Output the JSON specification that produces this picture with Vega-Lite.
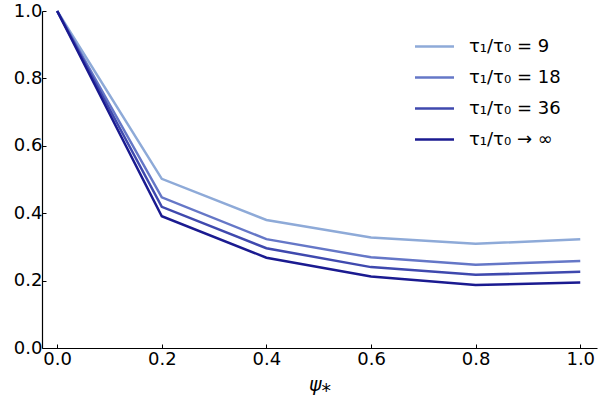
{
  "$schema": "https://vega.github.io/schema/vega-lite/v6.json",
  "autosize": "none",
  "width": 555,
  "height": 337,
  "padding": {"left": 42, "top": 11, "right": 3, "bottom": 52},
  "background": "white",
  "config": {
    "view": {"stroke": null},
    "font": "DejaVu Sans"
  },
  "data": {
    "values": [
      {"psi": 0.0, "v": 1.0, "s": "τ₁/τ₀ = 9"},
      {"psi": 0.2, "v": 0.502, "s": "τ₁/τ₀ = 9"},
      {"psi": 0.4, "v": 0.380, "s": "τ₁/τ₀ = 9"},
      {"psi": 0.6, "v": 0.328, "s": "τ₁/τ₀ = 9"},
      {"psi": 0.8, "v": 0.309, "s": "τ₁/τ₀ = 9"},
      {"psi": 1.0, "v": 0.323, "s": "τ₁/τ₀ = 9"},
      {"psi": 0.0, "v": 1.0, "s": "τ₁/τ₀ = 18"},
      {"psi": 0.2, "v": 0.447, "s": "τ₁/τ₀ = 18"},
      {"psi": 0.4, "v": 0.323, "s": "τ₁/τ₀ = 18"},
      {"psi": 0.6, "v": 0.269, "s": "τ₁/τ₀ = 18"},
      {"psi": 0.8, "v": 0.247, "s": "τ₁/τ₀ = 18"},
      {"psi": 1.0, "v": 0.258, "s": "τ₁/τ₀ = 18"},
      {"psi": 0.0, "v": 1.0, "s": "τ₁/τ₀ = 36"},
      {"psi": 0.2, "v": 0.419, "s": "τ₁/τ₀ = 36"},
      {"psi": 0.4, "v": 0.296, "s": "τ₁/τ₀ = 36"},
      {"psi": 0.6, "v": 0.240, "s": "τ₁/τ₀ = 36"},
      {"psi": 0.8, "v": 0.217, "s": "τ₁/τ₀ = 36"},
      {"psi": 1.0, "v": 0.226, "s": "τ₁/τ₀ = 36"},
      {"psi": 0.0, "v": 1.0, "s": "τ₁/τ₀ → ∞"},
      {"psi": 0.2, "v": 0.391, "s": "τ₁/τ₀ → ∞"},
      {"psi": 0.4, "v": 0.268, "s": "τ₁/τ₀ → ∞"},
      {"psi": 0.6, "v": 0.212, "s": "τ₁/τ₀ → ∞"},
      {"psi": 0.8, "v": 0.187, "s": "τ₁/τ₀ → ∞"},
      {"psi": 1.0, "v": 0.194, "s": "τ₁/τ₀ → ∞"}
    ]
  },
  "mark": {"type": "line", "strokeWidth": 2.5, "clip": false},
  "encoding": {
    "x": {
      "field": "psi", "type": "quantitative",
      "scale": {"domain": [-0.029, 1.032], "nice": false, "zero": false},
      "axis": {
        "title": "ψ⁎", "titleFontStyle": "italic", "titleFontWeight": "normal",
        "titleFontSize": 19, "titleColor": "black", "titlePadding": 7,
        "values": [0, 0.2, 0.4, 0.6, 0.8, 1.0], "format": ".1f",
        "labelFontSize": 18, "labelColor": "black", "labelPadding": 6,
        "tickSize": -4, "tickColor": "black", "domainColor": "black",
        "domainWidth": 1.2, "grid": false
      }
    },
    "y": {
      "field": "v", "type": "quantitative",
      "scale": {"domain": [0, 1], "nice": false},
      "axis": {
        "title": null,
        "values": [0, 0.2, 0.4, 0.6, 0.8, 1.0], "format": ".1f",
        "labelFontSize": 18, "labelColor": "black", "labelPadding": 4,
        "tickSize": -4, "tickColor": "black", "domainColor": "black",
        "domainWidth": 1.2, "grid": false
      }
    },
    "color": {
      "field": "s", "type": "nominal",
      "sort": ["τ₁/τ₀ = 9", "τ₁/τ₀ = 18", "τ₁/τ₀ = 36", "τ₁/τ₀ → ∞"],
      "scale": {
        "domain": ["τ₁/τ₀ = 9", "τ₁/τ₀ = 18", "τ₁/τ₀ = 36", "τ₁/τ₀ → ∞"],
        "range": ["#8eaad8", "#6577c7", "#3f49ae", "#1a1a90"]
      },
      "legend": {
        "title": null,
        "orient": "none",
        "legendX": 378,
        "legendY": 21,
        "labelFontSize": 18,
        "labelColor": "black",
        "symbolType": "M-1.5,0H1.5",
        "symbolSize": 676,
        "symbolStrokeWidth": 2.5,
        "labelOffset": 20,
        "rowPadding": 7
      }
    }
  }
}
